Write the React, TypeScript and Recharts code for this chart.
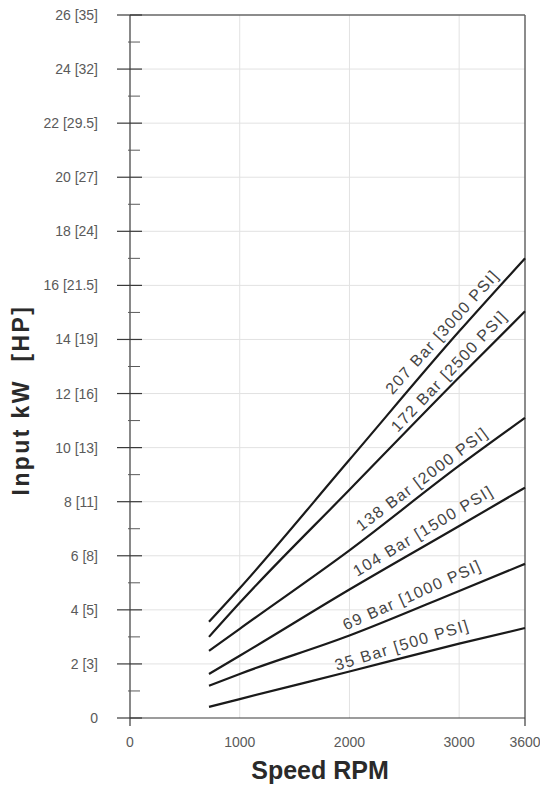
import React from "react";
import {
    LineChart, Line, XAxis, YAxis, ReferenceLine, ReferenceDot,
} from "recharts";

// ─── Data ─────────────────────────────────────────────────────────────────────

const RPM = [720, 1000, 2000, 3000, 3600];

const BAR35 = [0.41, 0.7, 1.72, 2.75, 3.33];
const BAR69 = [1.19, 1.63, 3.05, 4.7, 5.7];
const BAR104 = [1.63, 2.3, 4.75, 7.1, 8.52];
const BAR138 = [2.48, 3.3, 6.2, 9.33, 11.1];
const BAR172 = [3.0, 4.26, 8.44, 12.6, 15.04];
const BAR207 = [3.56, 4.8, 9.55, 14.3, 17.0];

const KW_TICKS = Array.from({ length: 27 }, (_, i) => i);
const HP_LABELS: Record<number, string> = {
    2: "3", 4: "5", 6: "8", 8: "11", 10: "13", 12: "16",
    14: "19", 16: "21.5", 18: "24", 20: "27", 22: "29.5", 24: "32", 26: "35",
};
const RPM_TICKS = [0, 1000, 2000, 3000, 3600];
const GRID_KW = [2, 4, 6, 8, 10, 12, 14, 16, 18, 20, 22, 24];
const GRID_RPM = [1000, 2000, 3000];

const SERIES = [
    { key: "b35", values: BAR35 },
    { key: "b69", values: BAR69 },
    { key: "b104", values: BAR104 },
    { key: "b138", values: BAR138 },
    { key: "b172", values: BAR172 },
    { key: "b207", values: BAR207 },
];

// label anchor in data units + text angle
const LABELS = [
    { text: "207 Bar [3000 PSI]", rpm: 2844, kw: 14.28, angle: -48 },
    { text: "172 Bar [2500 PSI]", rpm: 2908, kw: 12.83, angle: -46.5 },
    { text: "138 Bar [2000 PSI]", rpm: 2662, kw: 8.84, angle: -37 },
    { text: "104 Bar [1500 PSI]", rpm: 2671, kw: 6.92, angle: -31 },
    { text: "69 Bar [1000 PSI]", rpm: 2571, kw: 4.55, angle: -24 },
    { text: "35 Bar [500 PSI]", rpm: 2480, kw: 2.7, angle: -17 },
];

const rows = RPM.map((rpm, i) => {
    const row: Record<string, number> = { rpm };
    SERIES.forEach((s) => (row[s.key] = s.values[i]));
    return row;
});

const FONT = "'Liberation Sans', Arial, sans-serif";
const TICK_COLOR = "#5a5a5a";
const AXIS_COLOR = "#3a3a3a";

// ─── Ticks ────────────────────────────────────────────────────────────────────

function YTick({ x, y, payload }: any) {
    const v = payload.value as number;
    if (v % 2 === 1)
        return <line x1={x - 2} x2={x + 10} y1={y} y2={y} stroke={TICK_COLOR} strokeWidth={1} />;
    const label = v === 0 ? "0" : `${v} [${HP_LABELS[v]}]`;
    return (
        <g>
            <line x1={x - 13} x2={x + 12} y1={y} y2={y} stroke={AXIS_COLOR} strokeWidth={1.2} />
            <text
                x={x - 32}
                y={y}
                textAnchor="end"
                dominantBaseline="central"
                fontFamily={FONT}
                fontSize={14}
                fill={TICK_COLOR}
            >
                {label}
            </text>
        </g>
    );
}

function XTick({ x, y, payload }: any) {
    const v = payload.value as number;
    const edge = v === 0 || v === 3600;
    return (
        <g>
            {edge && <line x1={x} x2={x} y1={y} y2={y + 8} stroke={AXIS_COLOR} strokeWidth={1.2} />}
            <text
                x={x}
                y={y + 24}
                textAnchor="middle"
                dominantBaseline="central"
                fontFamily={FONT}
                fontSize={14}
                fill={TICK_COLOR}
            >
                {v}
            </text>
        </g>
    );
}

// ─── Chart ────────────────────────────────────────────────────────────────────

export default function App() {
    return (
        <div style={{ position: "absolute", left: 0, top: 0, width: 540, height: 789, background: "#fff" }}>
            <LineChart
                width={540}
                height={789}
                data={rows}
                margin={{ top: 15, right: 15, left: 0, bottom: 0 }}
            >
                <XAxis
                    dataKey="rpm"
                    type="number"
                    domain={[0, 3600]}
                    ticks={RPM_TICKS}
                    height={71}
                    tickSize={0}
                    tickMargin={0}
                    tickLine={false}
                    axisLine={{ stroke: AXIS_COLOR, strokeWidth: 1.2 }}
                    tick={<XTick />}
                    interval={0}
                />
                <YAxis
                    type="number"
                    domain={[0, 26]}
                    ticks={KW_TICKS}
                    width={130}
                    tickSize={0}
                    tickMargin={0}
                    tickLine={false}
                    axisLine={{ stroke: AXIS_COLOR, strokeWidth: 1.2 }}
                    tick={<YTick />}
                    interval={0}
                />
                {GRID_KW.map((v) => (
                    <ReferenceLine key={`gy${v}`} y={v} stroke="#e2e2e2" strokeWidth={1} />
                ))}
                {GRID_RPM.map((v) => (
                    <ReferenceLine key={`gx${v}`} x={v} stroke="#e2e2e2" strokeWidth={1} />
                ))}
                <ReferenceLine y={26} stroke="#666" strokeWidth={1.5} />
                <ReferenceLine x={3600} stroke="#666" strokeWidth={1.5} />
                {SERIES.map((s) => (
                    <Line
                        key={s.key}
                        dataKey={s.key}
                        type="monotone"
                        stroke="#1a1a1a"
                        strokeWidth={2.2}
                        dot={false}
                        activeDot={false}
                        isAnimationActive={false}
                    />
                ))}
                {LABELS.map((l) => (
                    <ReferenceDot
                        key={l.text}
                        x={l.rpm}
                        y={l.kw}
                        r={1}
                        shape={(p: any) => (
                            <text
                                x={p.cx}
                                y={p.cy}
                                transform={`rotate(${l.angle} ${p.cx} ${p.cy})`}
                                textAnchor="middle"
                                dominantBaseline="central"
                                fontFamily={FONT}
                                fontSize={16}
                                letterSpacing={1.4}
                                fill="#444"
                            >
                                {l.text}
                            </text>
                        )}
                    />
                ))}
            </LineChart>
            <div
                style={{
                    position: "absolute",
                    left: 21,
                    top: 400,
                    transform: "translate(-50%, -50%) rotate(-90deg)",
                    fontFamily: FONT,
                    fontWeight: 700,
                    fontSize: 23,
                    letterSpacing: 2.4,
                    whiteSpace: "pre",
                    color: "#2a2a2a",
                }}
            >
                Input kW  [HP]
            </div>
            <div
                style={{
                    position: "absolute",
                    left: 320,
                    top: 770,
                    transform: "translate(-50%, -50%)",
                    fontFamily: FONT,
                    fontWeight: 700,
                    fontSize: 25,
                    whiteSpace: "pre",
                    color: "#2a2a2a",
                }}
            >
                Speed RPM
            </div>
        </div>
    );
}
